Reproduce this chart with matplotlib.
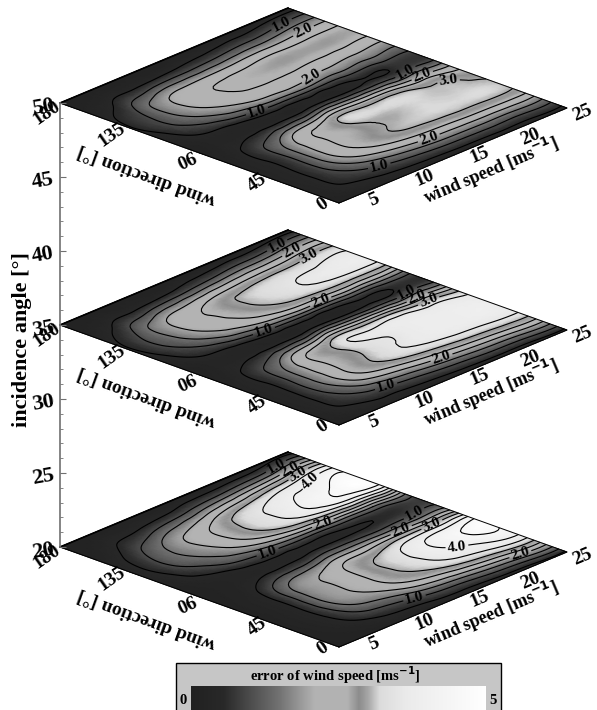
#!/usr/bin/env python
import numpy as np
import matplotlib
matplotlib.use('Agg')
import matplotlib.pyplot as plt
import matplotlib.tri as mtri
from matplotlib.colors import LinearSegmentedColormap
from matplotlib.patches import Rectangle
from matplotlib.transforms import Affine2D

plt.rcParams['font.family'] = ['Liberation Serif', 'DejaVu Serif']
plt.rcParams['font.weight'] = 'bold'

# wind speed across, wind direction down
speeds = [3, 4, 5, 6, 8, 10, 13, 16, 19, 22, 25]
directions = [0, 15, 30, 45, 60, 75, 90, 105, 120, 135, 150, 165, 180]

err_50 = [
    [.10, .12, .13, .15, .18, .20, .20, .22, .25, .25, .25],
    [.20, .30, .45, .55, .75, .95, 1.2, 1.35, 1.4, 1.4, 1.4],
    [.25, .35, .50, .75, 1.4, 1.95, 2.4, 2.6, 2.7, 2.75, 2.75],
    [.25, .35, .50, .80, 1.75, 2.45, 2.85, 3.1, 3.2, 3.2, 3.1],
    [.25, .35, .50, .80, 1.75, 2.45, 2.85, 3.1, 3.2, 3.1, 2.85],
    [.20, .30, .50, .75, 1.3, 1.95, 2.5, 2.65, 2.6, 2.3, 2.1],
    [.15, .20, .30, .30, .35, .35, .40, .45, .55, .65, .75],
    [.20, .30, .45, .55, .70, .95, 1.15, 1.2, 1.15, 1.15, 1.15],
    [.35, .55, .85, 1.1, 1.6, 2.0, 2.35, 2.35, 2.2, 2.1, 2.0],
    [.45, .72, .95, 1.3, 1.95, 2.3, 2.6, 2.7, 2.75, 2.75, 2.7],
    [.35, .55, .75, 1.15, 1.7, 2.0, 2.1, 2.2, 2.3, 2.35, 2.4],
    [.15, .25, .35, .50, .55, .65, .75, .90, 1.05, 1.25, 1.35],
    [.10, .10, .10, .12, .15, .15, .15, .15, .15, .20, .20],
]
err_35 = [
    [.10, .12, .13, .15, .18, .20, .22, .25, .25, .25, .30],
    [.20, .30, .45, .55, .80, .95, 1.2, 1.45, 1.65, 1.8, 1.95],
    [.25, .35, .50, .80, 1.45, 2.1, 2.55, 2.9, 3.15, 3.3, 3.4],
    [.25, .35, .50, .90, 1.75, 2.5, 3.1, 3.55, 3.78, 3.85, 3.8],
    [.25, .35, .50, .85, 1.75, 2.5, 3.1, 3.55, 3.78, 3.8, 3.7],
    [.20, .30, .50, .75, 1.3, 2.05, 2.7, 2.9, 2.9, 2.65, 2.4],
    [.15, .20, .30, .30, .35, .35, .40, .45, .50, .60, .70],
    [.20, .30, .45, .55, .70, .95, 1.25, 1.35, 1.4, 1.4, 1.4],
    [.35, .55, .85, 1.1, 1.65, 2.1, 2.6, 3.0, 3.2, 3.3, 3.3],
    [.45, .70, 1.05, 1.35, 2.0, 2.35, 2.85, 3.25, 3.5, 3.65, 3.7],
    [.35, .55, .80, 1.2, 1.75, 2.1, 2.45, 2.7, 2.85, 3.0, 3.1],
    [.15, .25, .35, .50, .55, .70, .90, 1.15, 1.35, 1.55, 1.7],
    [.10, .10, .10, .12, .15, .15, .15, .15, .15, .20, .20],
]
err_20 = [
    [.08, .10, .10, .12, .15, .18, .20, .22, .25, .30, .35],
    [.12, .15, .22, .30, .60, .80, 1.1, 1.4, 1.7, 2.0, 2.2],
    [.15, .20, .30, .45, 1.2, 1.65, 2.2, 2.75, 3.25, 3.6, 3.9],
    [.15, .20, .30, .50, 1.5, 1.95, 2.55, 3.15, 3.8, 4.25, 4.55],
    [.15, .20, .30, .50, 1.5, 1.95, 2.55, 3.1, 3.75, 4.15, 4.5],
    [.12, .18, .25, .40, 1.05, 1.4, 1.8, 2.0, 2.1, 2.1, 2.1],
    [.10, .15, .20, .25, .30, .35, .40, .45, .50, .65, .80],
    [.15, .22, .35, .45, .75, 1.0, 1.25, 1.35, 1.45, 1.5, 1.6],
    [.25, .40, .65, .95, 1.4, 1.85, 2.6, 3.2, 3.7, 4.1, 4.35],
    [.30, .50, .80, 1.15, 1.65, 2.15, 2.85, 3.45, 4.0, 4.45, 4.7],
    [.25, .40, .60, .90, 1.4, 1.85, 2.4, 2.95, 3.4, 3.8, 4.15],
    [.12, .20, .30, .45, .55, .75, 1.0, 1.3, 1.55, 1.85, 2.05],
    [.08, .10, .10, .12, .15, .15, .15, .15, .15, .20, .20],
]

levels = [0.5, 1.0, 1.5, 2.0, 2.5, 3.0, 3.5, 4.0, 4.5]
gray_pos = [0, .11, .20, .30, .37, .42, .53, .57, .60, .64, .73, .90, 1]
gray_val = [.13, .16, .30, .45, .60, .70, .70, .55, .65, .86, .92, .97, 1]
speed_ticks = [5, 10, 15, 20, 25]
dir_ticks = [0, 45, 90, 135, 180]

# pixel positions of the labelled contours, one dict per panel
labels_50 = {1.0: [(282, 25), (258, 114), (404, 70), (379, 165)],
             2.0: [(304, 32), (314, 80), (422, 75), (427, 133)],
             3.0: [(449, 85)]}
labels_35 = {1.0: [(278, 247), (265, 334), (407, 293), (386, 386)],
             2.0: [(293, 252), (320, 300), (417, 297), (440, 353)],
             3.0: [(310, 257), (429, 302)]}
labels_20 = {1.0: [(277, 468), (270, 559), (415, 515), (415, 600)],
             2.0: [(290, 470), (325, 529), (402, 532), (520, 553)],
             3.0: [(432, 525), (300, 477)],
             4.0: [(315, 485), (457, 547)]}

cmap = LinearSegmentedColormap.from_list('err', list(zip(gray_pos, [(g, g, g) for g in gray_val])))

fig = plt.figure(figsize=(5.97, 7.10), dpi=100)
ax = fig.add_axes([0, 0, 1, 1])
ax.set_xlim(0, 597)
ax.set_ylim(710, 0)
ax.axis('off')

ws, wd = np.meshgrid(speeds, directions)
tri = mtri.Triangulation(ws.ravel(), wd.ravel())
refiner = mtri.UniformTriRefiner(tri)


def panel(err, y_off, labels):
    # plane drawn as a skewed sheet: speed runs up right, direction up left
    a, c = 228 / 22.0, -279 / 180.0
    b, d = -95 / 22.0, -100 / 180.0
    tr = Affine2D.from_values(a, b, c, d, 339 - 3 * a, 203 + y_off - 3 * b) + ax.transData
    fine, z = refiner.refine_field(np.array(err).ravel(), subdiv=3)
    ax.tripcolor(fine, z, shading='gouraud', cmap=cmap, vmin=0, vmax=5, transform=tr)
    for lev in levels:
        if z.max() <= lev:
            continue
        cs = ax.tricontour(fine, z, levels=[lev], colors='k', linewidths=0.8, transform=tr)
        if lev in labels:
            ax.clabel(cs, manual=labels[lev], fmt='%.1f', fontsize=11, inline=True, inline_spacing=2)
    ax.plot([3, 25, 25, 3, 3], [0, 0, 180, 180, 0], color='k', lw=0.7, transform=tr)
    ax.plot([3, 25], [180, 180], color='k', lw=1.2, transform=tr)

    for s, (x, y) in zip(speed_ticks, [(374, 200), (425, 178), (480, 155), (530, 137), (582, 113)]):
        ax.text(x, y + y_off, str(s), fontsize=14, rotation=23, ha='center', va='center')
    ax.text(491, 171 + y_off, 'wind speed [ms$^{\\mathbf{-1}}$]', fontsize=13, rotation=23, ha='center', va='center')
    for s, (x, y) in zip(dir_ticks, [(323, 205), (257, 183), (185, 157), (112, 135), (47, 113)]):
        ax.text(x, y + y_off, str(s), fontsize=14, rotation=205 if s == 90 else 35, ha='center', va='center')
    ax.text(147, 175 + y_off, 'wind direction [°]', fontsize=14, rotation=160, ha='center', va='center')


panel(err_50, 0, labels_50)
panel(err_35, 222, labels_35)
panel(err_20, 444, labels_20)

ax.text(22, 340, 'incidence angle [°]', fontsize=16, rotation=90, ha='center', va='center')

# incidence angle axis
yax = fig.add_axes([60 / 597, (710 - 547) / 710, 0.002, 444 / 710])
yax.patch.set_alpha(0)
yax.set_xticks([])
yax.set_ylim(20, 50)
yax.set_yticks(range(20, 51, 5))
yax.set_yticks(range(20, 51), minor=True)
for s in ['top', 'right', 'bottom']:
    yax.spines[s].set_visible(False)
yax.spines['left'].set_color('#707070')
yax.spines['left'].set_linewidth(1.2)
yax.tick_params(axis='y', which='major', direction='in', length=4, color='#707070', labelsize=16, pad=3, labelrotation=10)
yax.tick_params(axis='y', which='minor', direction='in', length=2, color='#707070')

# colour key at the bottom
ax.add_patch(Rectangle((176, 663), 325, 55, fc='#c6c6c6', ec='k', lw=1.0))
ax.text(335, 675, 'error of wind speed [ms$^{\\mathbf{-1}}$]', fontsize=10.5, ha='center', va='center')
ax.text(183, 700, '0', fontsize=10.5, ha='center', va='center')
ax.text(493, 700, '5', fontsize=10.5, ha='center', va='center')
cax = fig.add_axes([191 / 597, 0, 295 / 597, 24 / 710])
cax.imshow(np.linspace(0, 5, 256).reshape(1, -1), cmap=cmap, vmin=0, vmax=5, aspect='auto')
cax.axis('off')

plt.savefig('out.png', dpi=100)
